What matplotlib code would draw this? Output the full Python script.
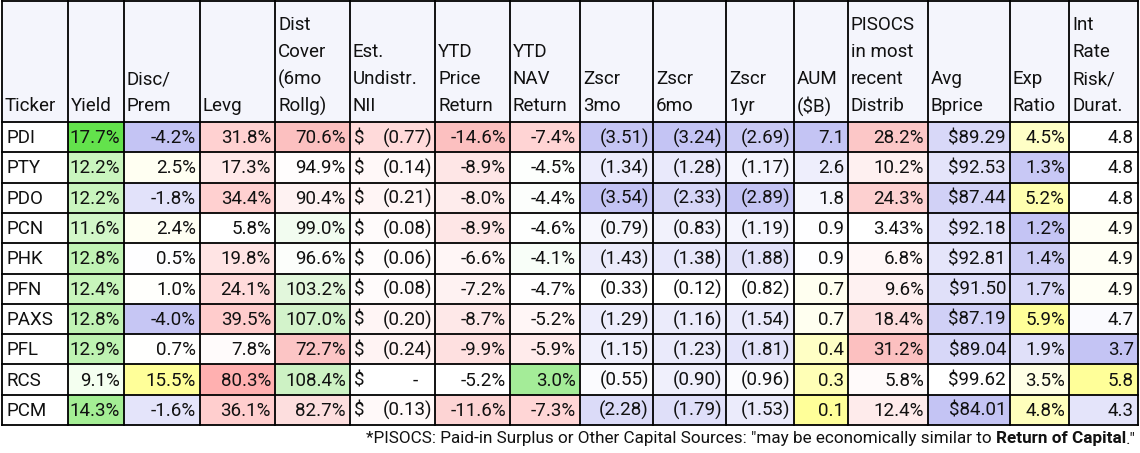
import numpy as np
import matplotlib
matplotlib.use("Agg")
from matplotlib import pyplot as plt
from matplotlib.colors import to_rgb

tickers = ["PDI", "PTY", "PDO", "PCN", "PHK", "PFN", "PAXS", "PFL", "RCS", "PCM"]
yield_ = [17.7, 12.2, 12.2, 11.6, 12.8, 12.4, 12.8, 12.9, 9.1, 14.3]
disc = [-4.2, 2.5, -1.8, 2.4, 0.5, 1.0, -4.0, 0.7, 15.5, -1.6]
levg = [31.8, 17.3, 34.4, 5.8, 19.8, 24.1, 39.5, 7.8, 80.3, 36.1]
cover = [70.6, 94.9, 90.4, 99.0, 96.6, 103.2, 107.0, 72.7, 108.4, 82.7]
nii = [-0.77, -0.14, -0.21, -0.08, -0.06, -0.08, -0.20, -0.24, 0.0, -0.13]
ytd_price = [-14.6, -8.9, -8.0, -8.9, -6.6, -7.2, -8.7, -9.9, -5.2, -11.6]
ytd_nav = [-7.4, -4.5, -4.4, -4.6, -4.1, -4.7, -5.2, -5.9, 3.0, -7.3]
z3 = [-3.51, -1.34, -3.54, -0.79, -1.43, -0.33, -1.29, -1.15, -0.55, -2.28]
z6 = [-3.24, -1.28, -2.33, -0.83, -1.38, -0.12, -1.16, -1.23, -0.90, -1.79]
z1 = [-2.69, -1.17, -2.89, -1.19, -1.88, -0.82, -1.54, -1.81, -0.96, -1.53]
aum = [7.1, 2.6, 1.8, 0.9, 0.9, 0.7, 0.7, 0.4, 0.3, 0.1]
pisocs = [28.2, 10.2, 24.3, 3.43, 6.8, 9.6, 18.4, 31.2, 5.8, 12.4]
bprice = [89.29, 92.53, 87.44, 92.18, 92.81, 91.50, 87.19, 89.04, 99.62, 84.01]
exp_ratio = [4.5, 1.3, 5.2, 1.2, 1.4, 1.7, 5.9, 1.9, 3.5, 4.8]
duration = [4.8, 4.8, 4.8, 4.9, 4.9, 4.9, 4.7, 3.7, 5.8, 4.3]

headers = [["Ticker"], ["Yield"], ["Disc/", "Prem"], ["Levg"],
           ["Dist", "Cover", "(6mo", "Rollg)"], ["Est.", "Undistr.", "NII"],
           ["YTD", "Price", "Return"], ["YTD", "NAV", "Return"],
           ["Zscr", "3mo"], ["Zscr", "6mo"], ["Zscr", "1yr"], ["AUM", "($B)"],
           ["PISOCS", "in most", "recent", "Distrib"], ["Avg", "Bprice"],
           ["Exp", "Ratio"], ["Int", "Rate", "Risk/", "Durat."]]
edges = [2, 68, 124, 200, 275, 350, 435, 510, 580, 653, 726, 794, 848, 928, 1010, 1069, 1138]

W, G, R, B, Y = "#ffffff", "#63e24c", "#fcc0c0", "#c4c4f4", "#ffff99"

def pct(v): return "%.1f%%" % v
def paren(v): return "(%.2f)" % abs(v) if v < 0 else "%.2f" % v

# (values, formatter, low colour, mid colour, high colour)
cols = [
    (yield_, pct, "#f4fff0", "#c4f4b8", G),
    (disc, pct, B, W, Y),
    (levg, pct, W, "#ffd4d4", "#ffb0b0"),
    (cover, pct, R, W, "#cdf2c4"),
    (nii, None, "#ffdada", None, W),
    (ytd_price, pct, R, None, W),
    (ytd_nav, pct, "#ffd4d4", W, "#a4ec98"),
    (z3, paren, B, None, W),
    (z6, paren, B, None, W),
    (z1, paren, B, None, W),
    (aum, lambda v: "%.1f" % v, Y, W, B),
    (pisocs, lambda v: ("%.2f%%" % v) if v < 4 else pct(v), W, None, R),
    (bprice, lambda v: "$%.2f" % v, B, None, W),
    (exp_ratio, pct, B, W, Y),
    (duration, lambda v: "%.1f" % v, B, W, Y),
]

def scale(vals, lo, mid, hi):
    v = np.array(vals, float)
    mn, mx = v.min(), v.max()
    out = []
    for x in v:
        if mid is None:
            t = (x - mn) / (mx - mn)
            c = (1 - t) * np.array(to_rgb(lo)) + t * np.array(to_rgb(hi))
        else:
            md = np.percentile(v, 50)
            if x <= md:
                t = (x - mn) / (md - mn) if md > mn else 1
                c = (1 - t) * np.array(to_rgb(lo)) + t * np.array(to_rgb(mid))
            else:
                t = (x - md) / (mx - md)
                c = (1 - t) * np.array(to_rgb(mid)) + t * np.array(to_rgb(hi))
        out.append(c)
    return out

fig = plt.figure(figsize=(11.4, 4.53), dpi=100)
ax = fig.add_axes([0, 0, 1, 1])
ax.set_xlim(0, 1140)
ax.set_ylim(453, 0)
ax.axis("off")
font = dict(family=["Roboto", "DejaVu Sans"], fontsize=13.5, color="#111111")

top, hb, rh = 1, 122, 30.3
ax.add_patch(plt.Rectangle((edges[0], top), edges[-1] - edges[0], hb - top, color="#f4f5fc", lw=0))
for i, h in enumerate(headers):
    for k, line in enumerate(reversed(h)):
        ax.text(edges[i] + 3, 106 - 27 * k, line, ha="left", va="center", **font)

for j, t in enumerate(tickers):
    y = hb + rh * j
    ax.text(edges[0] + 4, y + rh / 2 + 1, t, ha="left", va="center", **font)

for c, (vals, fmt, lo, mid, hi) in enumerate(cols):
    colours = scale(vals, lo, mid, hi)
    x0, x1 = edges[c + 1], edges[c + 2]
    for j, v in enumerate(vals):
        y = hb + rh * j
        ax.add_patch(plt.Rectangle((x0, y), x1 - x0, rh, color=colours[j], lw=0))
        if fmt is None:
            ax.text(x0 + 4, y + rh / 2 + 1, "$", ha="left", va="center", **font)
            s = paren(v) if v != 0 else "-   "
            ax.text(x1 - 3, y + rh / 2 + 1, s, ha="right", va="center", **font)
        else:
            ax.text(x1 - 4, y + rh / 2 + 1, fmt(v), ha="right", va="center", **font)

bottom = hb + rh * len(tickers)
for x in edges:
    ax.plot([x, x], [top, bottom], color="black", lw=1.3)
for y in [top, hb] + [hb + rh * j for j in range(1, len(tickers) + 1)]:
    ax.plot([edges[0], edges[-1]], [y, y], color="black", lw=1.3)

# footnote, right aligned with a bold part
fn = dict(family=["Roboto", "DejaVu Sans"], fontsize=12.3, color="#111111")
r = fig.canvas.get_renderer()
inv = ax.transData.inverted()
xr = 1136
for s, wt in [('."', "normal"), ("Return of Capital", "bold"),
              ('*PISOCS: Paid-in Surplus or Other Capital Sources: "may be economically similar to ', "normal")]:
    t = ax.text(xr, 439, s, ha="right", va="center", fontweight=wt, **fn)
    bb = t.get_window_extent(r)
    xr = inv.transform((bb.x0, bb.y0))[0]

fig.savefig("out.png", dpi=100)
